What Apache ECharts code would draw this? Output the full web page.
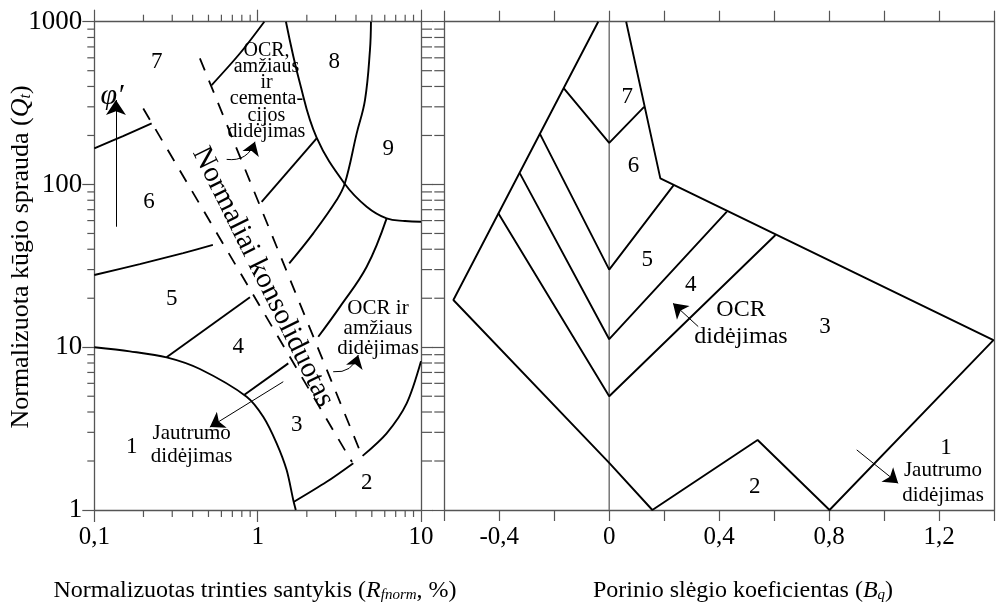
<!DOCTYPE html>
<html><head><meta charset="utf-8">
<script src="https://cdn.jsdelivr.net/npm/echarts@6/dist/echarts.min.js"></script>
<style>html,body{margin:0;padding:0;background:#fff}#c{width:997px;height:606px}</style>
</head><body><div id="c"></div><script>
// ---------- tick labels ----------
const rfTickValues = [0.1, 1, 10];
const rfTickLabels = ['0,1', '1', '10'];
const qtTickValues = [1, 10, 100, 1000];
const qtTickLabels = ['1', '10', '100', '1000'];
const bqTickValues = [-0.4, 0, 0.4, 0.8, 1.2];
const bqTickLabels = ['-0,4', '0', '0,4', '0,8', '1,2'];
const rfMinorTicks = [0.2, 0.3, 0.4, 0.5, 0.6, 0.7, 0.8, 0.9, 2, 3, 4, 5, 6, 7, 8, 9];
const qtMinorTicks = [2, 3, 4, 5, 6, 7, 8, 9, 20, 30, 40, 50, 60, 70, 80, 90, 200, 300, 400, 500, 600, 700, 800, 900];

// ---------- left chart: Qt vs Fr (log-log) ----------
const zone1Arc = [[0.1, 10], [0.165, 9.43], [0.277, 8.67], [0.443, 7.35], [0.856, 4.97], [1.082, 3.74], [1.307, 2.57], [1.505, 1.76], [1.652, 1.152], [1.712, 1]];
const zone23Left = [[1.67, 1.124], [2.645, 1.49], [3.85, 1.94]];
const zone23Right = [[4.39, 2.15], [6.16, 2.96], [8.17, 4.52], [10, 8.2]];
const b67Left = [[0.1, 166.7], [0.15, 198], [0.2245, 237]];
const b56Left = [[0.1, 27.8], [0.19, 32.4], [0.35, 37.9], [0.532, 42.5]];
const b45Left = [[0.277, 8.67], [0.897, 20.3]];
const b34Left = [[0.83, 5.1], [1.54, 7.96]];
const b67Right = [[0.523, 408], [0.78, 640], [1.098, 1000]];
const b56Right = [[1.058, 78.3], [2.297, 192]];
const b45Right = [[1.561, 32.8], [2.19, 50.1], [3.045, 80.2], [3.42, 101.6], [4.04, 206], [4.54, 330], [4.87, 669], [4.94, 1000]];
const b34Right = [[2.35, 11.6], [3.19, 17.7], [4.65, 31.2], [6.16, 61.9]];
const zone8Curve = [[1.49, 1000], [1.815, 418], [2.297, 194], [3.42, 100.6], [4.65, 73], [6.16, 61.9], [7.97, 59.6], [10, 59]];
const ncLeft = [[0.1994, 293], [3.78, 1.97]];
const ncRight = [[0.443, 595], [4.35, 2.15]];
const arrowPhi = [[0.1357, 55], [0.1357, 330]];
const arrowSensLeft = [[1.435, 6.14], [0.51, 3.23]];
const arrowOcrTop = [[0.646, 142.6], [0.963, 183]];
const arrowOcrMid = [[2.90, 7.07], [4.13, 8.96]];

// ---------- right chart: Qt vs Bq ----------
const outerBq = [[-0.04, 1000], [-0.567, 19.5], [0, 1.95], [0.157, 1], [0.54, 2.69], [0.8016, 1], [1.398, 11.07], [0.186, 109], [0.0617, 1000]];
const b76Bq = [[-0.165, 389], [0, 180], [0.127, 300]];
const b65Bq = [[-0.253, 206], [0, 30], [0.2346, 99]];
const b54Bq = [[-0.325, 117], [0, 11.2], [0.428, 68]];
const b43Bq = [[-0.4035, 66.5], [0, 5], [0.605, 48.9]];
const zeroLineBq = [[0, 1], [0, 1000]];
const arrowOcrRight = [[0.3238, 13.4], [0.232, 18.6]];
const arrowSensRight = [[0.9006, 2.34], [1.0514, 1.46]];

// ---------- styling ----------
const FONT = '"Liberation Serif","Times New Roman",serif';
const AX = '#555';
const axLine = {show: true, onZero: false, lineStyle: {color: AX, width: 1.3}};
const tick = (len, show = true) => ({show: show, length: len, inside: false, lineStyle: {color: AX, width: 1.2}});

function fmtLog(vals, labels) {
  return function (v) {
    for (let i = 0; i < vals.length; i++) if (Math.abs(Math.log10(v) - Math.log10(vals[i])) < 1e-6) return labels[i];
    return '';
  };
}
function fmtLin(vals, labels) {
  return function (v) {
    for (let i = 0; i < vals.length; i++) if (Math.abs(v - vals[i]) < 1e-6) return labels[i];
    return '';
  };
}
const lbl = (f, size) => ({show: true, formatter: f, fontFamily: FONT, fontSize: size, color: '#000', showMinLabel: true, showMaxLabel: true});

function minorTickSeries(xi, yi, data, dx, dy) {
  return {
    type: 'custom', xAxisIndex: xi, yAxisIndex: yi, data: data, clip: false, silent: true, z: 5,
    renderItem: function (params, api) {
      const p = api.coord([api.value(0), api.value(1)]);
      return {type: 'line', shape: {x1: p[0], y1: p[1], x2: p[0] + dx, y2: p[1] + dy}, style: {stroke: AX, lineWidth: 1.2}};
    }
  };
}
function curve(xi, yi, data, opts) {
  return Object.assign({
    type: 'line', xAxisIndex: xi, yAxisIndex: yi, data: data, symbol: 'none', silent: true, z: 3,
    lineStyle: {color: '#000', width: 1.9}
  }, opts || {});
}
function arrow(xi, yi, coords, curveness, size) {
  return {
    type: 'lines', coordinateSystem: 'cartesian2d', xAxisIndex: xi, yAxisIndex: yi, silent: true, z: 4,
    symbol: ['none', 'arrow'], symbolSize: size || 12,
    lineStyle: {color: '#000', width: 1, curveness: curveness || 0, opacity: 1},
    data: [{coords: coords}]
  };
}
function txt(x, y, text, size, extra) {
  return Object.assign({
    type: 'text', x: x, y: y, silent: true, z: 10,
    style: Object.assign({text: text, fontFamily: FONT, fontSize: size, fill: '#000', align: 'center', verticalAlign: 'middle'}, (extra && extra.style) || {})
  }, extra ? {rotation: extra.rotation || 0} : {});
}
const richSub = (size, sub) => ({
  i: {fontFamily: FONT, fontSize: size, fontStyle: 'italic'},
  s: {fontFamily: FONT, fontSize: sub, fontStyle: 'italic', verticalAlign: 'bottom', padding: [8, 0, 0, 0]}
});

const chart = echarts.init(document.getElementById('c'), null, {renderer: 'canvas'});
const G0 = {left: 94.3, top: 21.7, width: 326.7, height: 488.3};
const G1 = {left: 444.3, top: 21.7, width: 552.4, height: 488.3};

const option = {
  animation: false,
  backgroundColor: '#fff',
  grid: [G0, G1],
  xAxis: [
    {gridIndex: 0, type: 'log', logBase: 10, min: 0.1, max: 10, position: 'bottom', axisLine: axLine, axisTick: tick(12),
      axisLabel: Object.assign(lbl(fmtLog(rfTickValues, rfTickLabels), 25), {margin: 15}), splitLine: {show: false}},
    {gridIndex: 0, type: 'log', logBase: 10, min: 0.1, max: 10, position: 'top', axisLine: axLine, axisTick: tick(12),
      axisLabel: {show: false}, splitLine: {show: false}},
    {gridIndex: 1, type: 'value', min: -0.6, max: 1.4, interval: 0.2, position: 'bottom', axisLine: axLine, axisTick: tick(11),
      axisLabel: Object.assign(lbl(fmtLin(bqTickValues, bqTickLabels), 25), {margin: 15}), splitLine: {show: false}},
    {gridIndex: 1, type: 'value', min: -0.6, max: 1.4, interval: 0.2, position: 'top', axisLine: axLine, axisTick: tick(11),
      axisLabel: {show: false}, splitLine: {show: false}}
  ],
  yAxis: [
    {gridIndex: 0, type: 'log', logBase: 10, min: 1, max: 1000, position: 'left', axisLine: axLine, axisTick: tick(12),
      axisLabel: Object.assign(lbl(fmtLog(qtTickValues, qtTickLabels), 27), {margin: 12}), splitLine: {show: false}},
    {gridIndex: 0, type: 'log', logBase: 10, min: 1, max: 1000, position: 'right', axisLine: axLine, axisTick: tick(12),
      axisLabel: {show: false}, splitLine: {show: false}},
    {gridIndex: 1, type: 'log', logBase: 10, min: 1, max: 1000, position: 'left', axisLine: axLine, axisTick: tick(12),
      axisLabel: {show: false}, splitLine: {show: false}},
    {gridIndex: 1, type: 'log', logBase: 10, min: 1, max: 1000, position: 'right', axisLine: axLine, axisTick: {show: false},
      axisLabel: {show: false}, splitLine: {show: false}}
  ],
  series: [
    minorTickSeries(0, 0, rfMinorTicks.map(v => [v, 1]), 0, 7),
    minorTickSeries(0, 0, rfMinorTicks.map(v => [v, 1000]), 0, -7),
    minorTickSeries(0, 0, qtMinorTicks.map(v => [0.1, v]), -7, 0),
    minorTickSeries(0, 0, qtMinorTicks.map(v => [10, v]), 11, 0),
    minorTickSeries(2, 2, qtMinorTicks.map(v => [-0.6, v]), -10, 0),

    curve(0, 0, zone1Arc, {smooth: 0.3}),
    curve(0, 0, zone23Left, {smooth: 0.3}),
    curve(0, 0, zone23Right, {smooth: 0.3}),
    curve(0, 0, b67Left, {smooth: 0.3}),
    curve(0, 0, b56Left, {smooth: 0.3}),
    curve(0, 0, b45Left),
    curve(0, 0, b34Left),
    curve(0, 0, b67Right, {smooth: 0.3}),
    curve(0, 0, b56Right, {smooth: 0.3}),
    curve(0, 0, b45Right, {smooth: 0.4}),
    curve(0, 0, b34Right, {smooth: 0.4}),
    curve(0, 0, zone8Curve, {smooth: 0.4}),
    curve(0, 0, ncLeft, {lineStyle: {color: '#000', width: 1.8, type: [13, 11]}}),
    curve(0, 0, ncRight, {lineStyle: {color: '#000', width: 1.8, type: [13, 11]}}),
    arrow(0, 0, arrowPhi, 0, 15),
    arrow(0, 0, arrowSensLeft, 0, 14),
    arrow(0, 0, arrowOcrTop, -0.4, 13),
    arrow(0, 0, arrowOcrMid, -0.4, 13),

    curve(2, 2, zeroLineBq, {lineStyle: {color: '#777', width: 1.5}, z: 2}),
    curve(2, 2, outerBq),
    curve(2, 2, b76Bq),
    curve(2, 2, b65Bq),
    curve(2, 2, b54Bq),
    curve(2, 2, b43Bq),
    arrow(2, 2, arrowOcrRight, 0, 14),
    arrow(2, 2, arrowSensRight, 0, 14)
  ],
  graphic: [
    // left zone numbers
    txt(156.7, 61.7, '7', 23), txt(334.3, 61.7, '8', 23), txt(388.3, 149.3, '9', 23),
    txt(149, 201.7, '6', 23), txt(171.7, 299.3, '5', 23), txt(238.3, 346.7, '4', 23),
    txt(296.7, 425, '3', 23), txt(366.7, 483.3, '2', 23), txt(131.7, 446.7, '1', 23),
    // right zone numbers
    txt(627.3, 96.7, '7', 23), txt(633.5, 165.7, '6', 23), txt(647.3, 260, '5', 23),
    txt(690.7, 285, '4', 23), txt(825, 326.7, '3', 23), txt(754.8, 486.7, '2', 23), txt(946, 448.3, '1', 23),
    // annotations
    txt(266.5, 91, 'OCR,\namžiaus\nir\ncementa-\ncijos\ndidėjimas', 20, {style: {lineHeight: 16.3}}),
    txt(378, 328.3, 'OCR ir\namžiaus\ndidėjimas', 21, {style: {lineHeight: 20}}),
    txt(191.7, 445, 'Jautrumo\ndidėjimas', 21, {style: {lineHeight: 23.4}}),
    txt(741, 323.5, 'OCR\ndidėjimas', 24, {style: {lineHeight: 27}}),
    txt(943, 482.5, 'Jautrumo\ndidėjimas', 21, {style: {lineHeight: 25}}),
    txt(112, 96, 'φ′', 30, {style: {fontStyle: 'italic'}}),
    txt(263, 277, 'Normaliai konsoliduotas', 29, {rotation: -1.11}),
    // axis titles
    txt(21, 257, 'Normalizuota kūgio sprauda ({i|Q}{s|t})', 26, {rotation: Math.PI / 2, style: {rich: richSub(26, 16)}}),
    txt(255, 591, 'Normalizuotas trinties santykis ({i|R}{s|fnorm}, %)', 24, {style: {rich: richSub(24, 15)}}),
    txt(743, 591, 'Porinio slėgio koeficientas ({i|B}{s|q})', 24, {style: {rich: richSub(24, 15)}})
  ]
};
chart.setOption(option);
</script></body></html>
